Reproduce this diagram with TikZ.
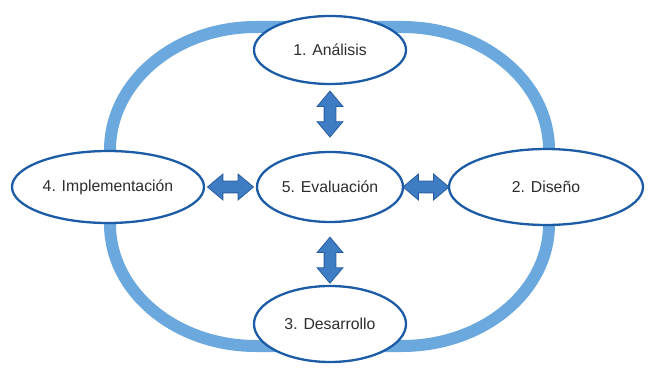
\documentclass[tikz,border=0pt]{standalone}
\usepackage{fontspec}
\setmainfont{Liberation Sans}
\usetikzlibrary{shapes.geometric,shapes.arrows}
\definecolor{ringblue}{RGB}{106,168,222}
\definecolor{edgeblue}{RGB}{28,92,166}
\definecolor{arrowfill}{RGB}{62,124,196}
\definecolor{arrowedge}{RGB}{40,94,160}
\definecolor{txtgray}{RGB}{45,45,45}
\tikzset{
  phase/.style={ellipse, draw=edgeblue, line width=2.3pt, fill=white, inner sep=0pt,
    text=txtgray, font=\fontsize{15.8}{19}\selectfont},
  barrow/.style={double arrow, draw=arrowedge, fill=arrowfill, line width=0.8pt,
    inner xsep=0pt, inner ysep=5.5pt, double arrow head extend=7pt,
    double arrow tip angle=80, minimum height=46pt},
  ring/.style={draw=ringblue, line width=12pt}
}
\begin{document}
\begin{tikzpicture}[x=1pt,y=1pt]
\useasboundingbox (0,0) rectangle (653,375);
% ring
\draw[ring] (256,348) -- (402,348)
  arc[start angle=90,end angle=0,x radius=147,y radius=123] -- (549,151)
  arc[start angle=0,end angle=-90,x radius=147,y radius=122] -- (256,29)
  arc[start angle=270,end angle=180,x radius=146,y radius=122] -- (110,225)
  arc[start angle=180,end angle=90,x radius=146,y radius=123] -- cycle;
% phases
\node[phase, minimum width=152pt, minimum height=68pt] (an) at (330,325) {1. Análisis};
\node[phase, minimum width=146pt, minimum height=70pt] (ev) at (330,188) {5. Evaluación};
\node[phase, minimum width=192pt, minimum height=72pt] (im) at (108,188) {4. Implementación};
\node[phase, minimum width=194pt, minimum height=76pt] (di) at (546,188) {2. Diseño};
\node[phase, minimum width=152pt, minimum height=76pt] (de) at (330,51) {3. Desarrollo};
% arrows
\path (an.south) -- node[barrow, sloped, pos=0.44] (a1) {} (ev.north);
\path (ev.south) -- node[barrow, sloped, pos=0.6] (a2) {} (de.north);
\path (im.east) -- node[barrow, sloped, pos=0.5] (a3) {} (ev.west);
\path (ev.east) -- node[barrow, sloped, pos=0.5] (a4) {} (di.west);
\end{tikzpicture}
\end{document}
